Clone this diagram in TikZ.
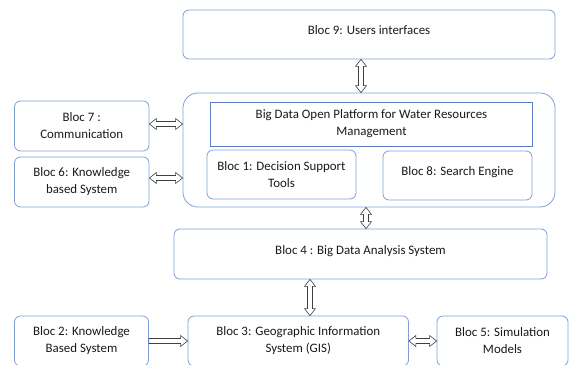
\documentclass[tikz,border=0pt]{standalone}
\usepackage{fontspec}
\setmainfont{Carlito}
\usetikzlibrary{calc}

\definecolor{blocblue}{RGB}{125,158,214}
\definecolor{titleblue}{RGB}{90,125,198}

\begin{document}
\begin{tikzpicture}[x=1pt, y=1pt,
        bloc/.style={draw=blocblue, line width=.8pt, rounded corners=6pt, align=center, inner sep=2pt,
            text=black!90, font=\fontsize{12.9}{17}\selectfont, execute at begin node={\rule{0pt}{15pt}}},
        lifted/.style={text depth=15pt},
        % hollow block arrows, both ends / one end
        biarrow/.style={draw=black!75, fill=white, line width=.6pt, to path={
            -- ($(\tikztostart)!7pt!(\tikztotarget)!5.5pt!90:(\tikztotarget)$)
            -- ($(\tikztostart)!7pt!(\tikztotarget)!2.5pt!90:(\tikztotarget)$)
            -- ($(\tikztotarget)!7pt!(\tikztostart)!2.5pt!-90:(\tikztostart)$)
            -- ($(\tikztotarget)!7pt!(\tikztostart)!5.5pt!-90:(\tikztostart)$)
            -- (\tikztotarget)
            -- ($(\tikztotarget)!7pt!(\tikztostart)!5.5pt!90:(\tikztostart)$)
            -- ($(\tikztotarget)!7pt!(\tikztostart)!2.5pt!90:(\tikztostart)$)
            -- ($(\tikztostart)!7pt!(\tikztotarget)!2.5pt!-90:(\tikztotarget)$)
            -- ($(\tikztostart)!7pt!(\tikztotarget)!5.5pt!-90:(\tikztotarget)$)
            -- cycle}},
        monoarrow/.style={draw=black!75, fill=white, line width=.6pt, to path={
            -- ($(\tikztostart)!2.5pt!90:(\tikztotarget)$)
            -- ($(\tikztotarget)!7pt!(\tikztostart)!2.5pt!-90:(\tikztostart)$)
            -- ($(\tikztotarget)!7pt!(\tikztostart)!5.5pt!-90:(\tikztostart)$)
            -- (\tikztotarget)
            -- ($(\tikztotarget)!7pt!(\tikztostart)!5.5pt!90:(\tikztostart)$)
            -- ($(\tikztotarget)!7pt!(\tikztostart)!2.5pt!90:(\tikztostart)$)
            -- ($(\tikztostart)!2.5pt!-90:(\tikztotarget)$)
            -- cycle}}]
        \useasboundingbox (0, 0) rectangle (569, 364);

        % top and platform
        \node[bloc, lifted, minimum width=372pt, minimum height=49pt] (b9) at (369, 329.5) {Bloc 9: Users interfaces};
        \node[bloc, rounded corners=15pt, minimum width=372pt, minimum height=114pt] (plat) at (369, 214) {};
        \node[bloc, draw=titleblue, rounded corners=0pt, minimum width=322pt, minimum height=44pt] (title) at (371.5, 240)
            {Big Data Open Platform for Water Resources\\Management};
        \node[bloc, minimum width=149pt, minimum height=49pt] (b1) at (281.5, 189.5) {Bloc 1: Decision Support\\Tools};
        \node[bloc, lifted, minimum width=149pt, minimum height=49pt] (b8) at (457.5, 188.5) {Bloc 8: Search Engine};

        % left column
        \node[bloc, minimum width=134.5pt, minimum height=50pt] (b7) at (81.75, 238) {Bloc 7 :\\Communication};
        \node[bloc, minimum width=134.5pt, minimum height=50pt] (b6) at (81.75, 182) {Bloc 6: Knowledge\\based System};

        % analysis and bottom row
        \node[bloc, lifted, minimum width=373pt, minimum height=50pt] (b4) at (360.5, 110) {Bloc 4 : Big Data Analysis System};
        \node[bloc, minimum width=134pt, minimum height=50pt] (b2) at (81.5, 23) {Bloc 2: Knowledge\\Based System};
        \node[bloc, minimum width=220.5pt, minimum height=50pt] (b3) at (298.25, 23) {Bloc 3: Geographic Information\\System (GIS)};
        \node[bloc, minimum width=131pt, minimum height=50pt] (b5) at (502.5, 23) {Bloc 5: Simulation\\Models};

        \draw[biarrow] ([xshift=-8pt]b9.south) to ([xshift=-8pt]plat.north);
        \draw[biarrow] ([yshift=2pt]b7.east) to ([yshift=2pt]b7.east -| plat.west);
        \draw[biarrow] ([yshift=4pt]b6.east) to ([yshift=4pt]b6.east -| plat.west);
        \draw[biarrow] ([xshift=-3pt]plat.south) to ([xshift=-3pt]plat.south |- b4.north);
        \draw[biarrow] ([xshift=-50.5pt]b4.south) to ([xshift=11.75pt]b3.north);
        \draw[monoarrow] (b2.east) to (b3.west);
        \draw[biarrow] (b3.east) to (b5.west);
    \end{tikzpicture}
\end{document}
